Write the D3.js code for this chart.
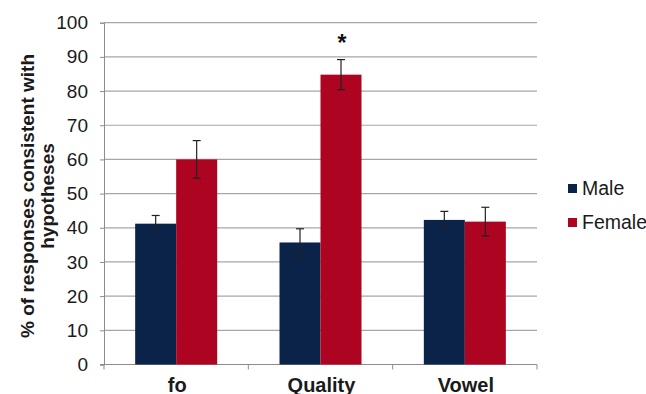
<!DOCTYPE html>
<html>
<head>
<meta charset="utf-8">
<script src="https://cdn.jsdelivr.net/npm/d3@7"></script>
<style>
  html, body { margin: 0; padding: 0; background: #fff; }
  svg { display: block; font-family: "Liberation Sans", Arial, sans-serif; }
</style>
</head>
<body>
<svg id="chart" width="646" height="394"></svg>
<script>
// Response categories and group means (%) with error-bar half-widths
const categories = ["fo", "Quality", "Vowel"];
const seriesNames = ["Male", "Female"];
const maleValues = [41.2, 35.7, 42.3];
const femaleValues = [60.0, 84.8, 41.8];
const maleErrors = [2.4, 4.0, 2.5];
const femaleErrors = [5.5, 4.4, 4.2];
const yTicks = [0, 10, 20, 30, 40, 50, 60, 70, 80, 90, 100];
const significant = ["Quality"];
const colors = { Male: "#0b2249", Female: "#ac0421" };

const svg = d3.select("#chart");
const margin = { left: 104, right: 109, top: 22.7, bottom: 30 };
const W = 646, H = 394;
const plotBottom = 364.5;

const x = d3.scaleBand().domain(categories).range([margin.left, W - margin.right]);
const xInner = d3.scaleBand().domain(seriesNames).range([0, 82]).paddingInner(0);
const y = d3.scaleLinear().domain([0, 100]).range([plotBottom, margin.top]);

// Horizontal gridlines
svg.append("g")
  .selectAll("line")
  .data(yTicks.filter(d => d > 0))
  .join("line")
  .attr("x1", margin.left).attr("x2", W - margin.right)
  .attr("y1", d => y(d)).attr("y2", d => y(d))
  .attr("stroke", "#a6a6a6").attr("stroke-width", 1.2);

// Y axis
const yAxis = svg.append("g")
  .attr("transform", `translate(${margin.left},0)`)
  .call(d3.axisLeft(y).tickValues(yTicks).tickSize(4).tickPadding(12));
yAxis.select(".domain").attr("stroke", "#8c8c8c");
yAxis.selectAll(".tick line").attr("stroke", "#8c8c8c");
yAxis.selectAll(".tick text")
  .attr("font-size", 19).attr("fill", "#1a1a1a")
  .attr("font-family", "'Liberation Sans', Arial, sans-serif");

// X axis with tick marks between categories
const xAxisG = svg.append("g").attr("transform", `translate(0,${plotBottom})`);
xAxisG.append("line")
  .attr("x1", margin.left - 4).attr("x2", W - margin.right)
  .attr("stroke", "#8c8c8c").attr("stroke-width", 1);
const bounds = categories.map(c => x(c)).concat([W - margin.right]);
xAxisG.selectAll("line.sep")
  .data(bounds)
  .join("line").attr("class", "sep")
  .attr("x1", d => d).attr("x2", d => d)
  .attr("y1", 0).attr("y2", 5)
  .attr("stroke", "#8c8c8c");
xAxisG.selectAll("text")
  .data(categories)
  .join("text")
  .attr("x", d => x(d) + x.bandwidth() / 2 + 1)
  .attr("y", 27)
  .attr("text-anchor", "middle")
  .attr("font-size", 20).attr("font-weight", "bold").attr("fill", "#1a1a1a")
  .text(d => d);

// Bars
const rows = categories.map((c, i) => ({
  cat: c,
  vals: [
    { s: "Male", v: maleValues[i], e: maleErrors[i] },
    { s: "Female", v: femaleValues[i], e: femaleErrors[i] }
  ]
}));

const groups = svg.append("g")
  .selectAll("g")
  .data(rows)
  .join("g")
  .attr("transform", d => `translate(${x(d.cat) + x.bandwidth() / 2 - 41},0)`);

groups.selectAll("rect")
  .data(d => d.vals)
  .join("rect")
  .attr("x", d => xInner(d.s))
  .attr("width", xInner.bandwidth())
  .attr("y", d => y(d.v))
  .attr("height", d => y(0) - y(d.v))
  .attr("fill", d => colors[d.s]);

// Error bars
const eb = groups.selectAll("g.err")
  .data(d => d.vals)
  .join("g").attr("class", "err")
  .attr("transform", d => `translate(${xInner(d.s) + xInner.bandwidth() / 2},0)`);
eb.append("line")
  .attr("y1", d => y(d.v + d.e)).attr("y2", d => y(d.v - d.e))
  .attr("stroke", "#222").attr("stroke-width", 1.2);
eb.append("line")
  .attr("x1", -4).attr("x2", 4)
  .attr("y1", d => y(d.v + d.e)).attr("y2", d => y(d.v + d.e))
  .attr("stroke", "#222").attr("stroke-width", 1.2);
eb.append("line")
  .attr("x1", -4).attr("x2", 4)
  .attr("y1", d => y(d.v - d.e)).attr("y2", d => y(d.v - d.e))
  .attr("stroke", "#222").attr("stroke-width", 1.2);

// Significance marker
svg.append("g")
  .selectAll("text")
  .data(rows.filter(r => significant.includes(r.cat)))
  .join("text")
  .attr("x", d => x(d.cat) + x.bandwidth() / 2 + 21.5)
  .attr("y", d => y(d.vals[1].v + d.vals[1].e) - 9)
  .attr("text-anchor", "middle")
  .attr("font-size", 23).attr("font-weight", "bold").attr("fill", "#111")
  .text("*");

// Y axis title
const yTitle = svg.append("text")
  .attr("transform", "translate(37,196) rotate(-90)")
  .attr("text-anchor", "middle")
  .attr("font-size", 19).attr("font-weight", "bold").attr("fill", "#1a1a1a");
yTitle.append("tspan").attr("x", 0).attr("dy", -3).text("% of responses consistent with");
yTitle.append("tspan").attr("x", 0).attr("dy", 20).text("hypotheses");

// Legend
const legend = svg.append("g").attr("transform", "translate(568,0)");
const legendY = [188.5, 222.5];
legend.selectAll("rect")
  .data(seriesNames)
  .join("rect")
  .attr("x", 0).attr("y", (d, i) => legendY[i] - 4.5)
  .attr("width", 9).attr("height", 9)
  .attr("fill", d => colors[d]);
legend.selectAll("text")
  .data(seriesNames)
  .join("text")
  .attr("x", 14).attr("y", (d, i) => legendY[i] + 6.5)
  .attr("font-size", 19.5).attr("fill", "#1a1a1a")
  .text(d => d);
</script>
</body>
</html>
